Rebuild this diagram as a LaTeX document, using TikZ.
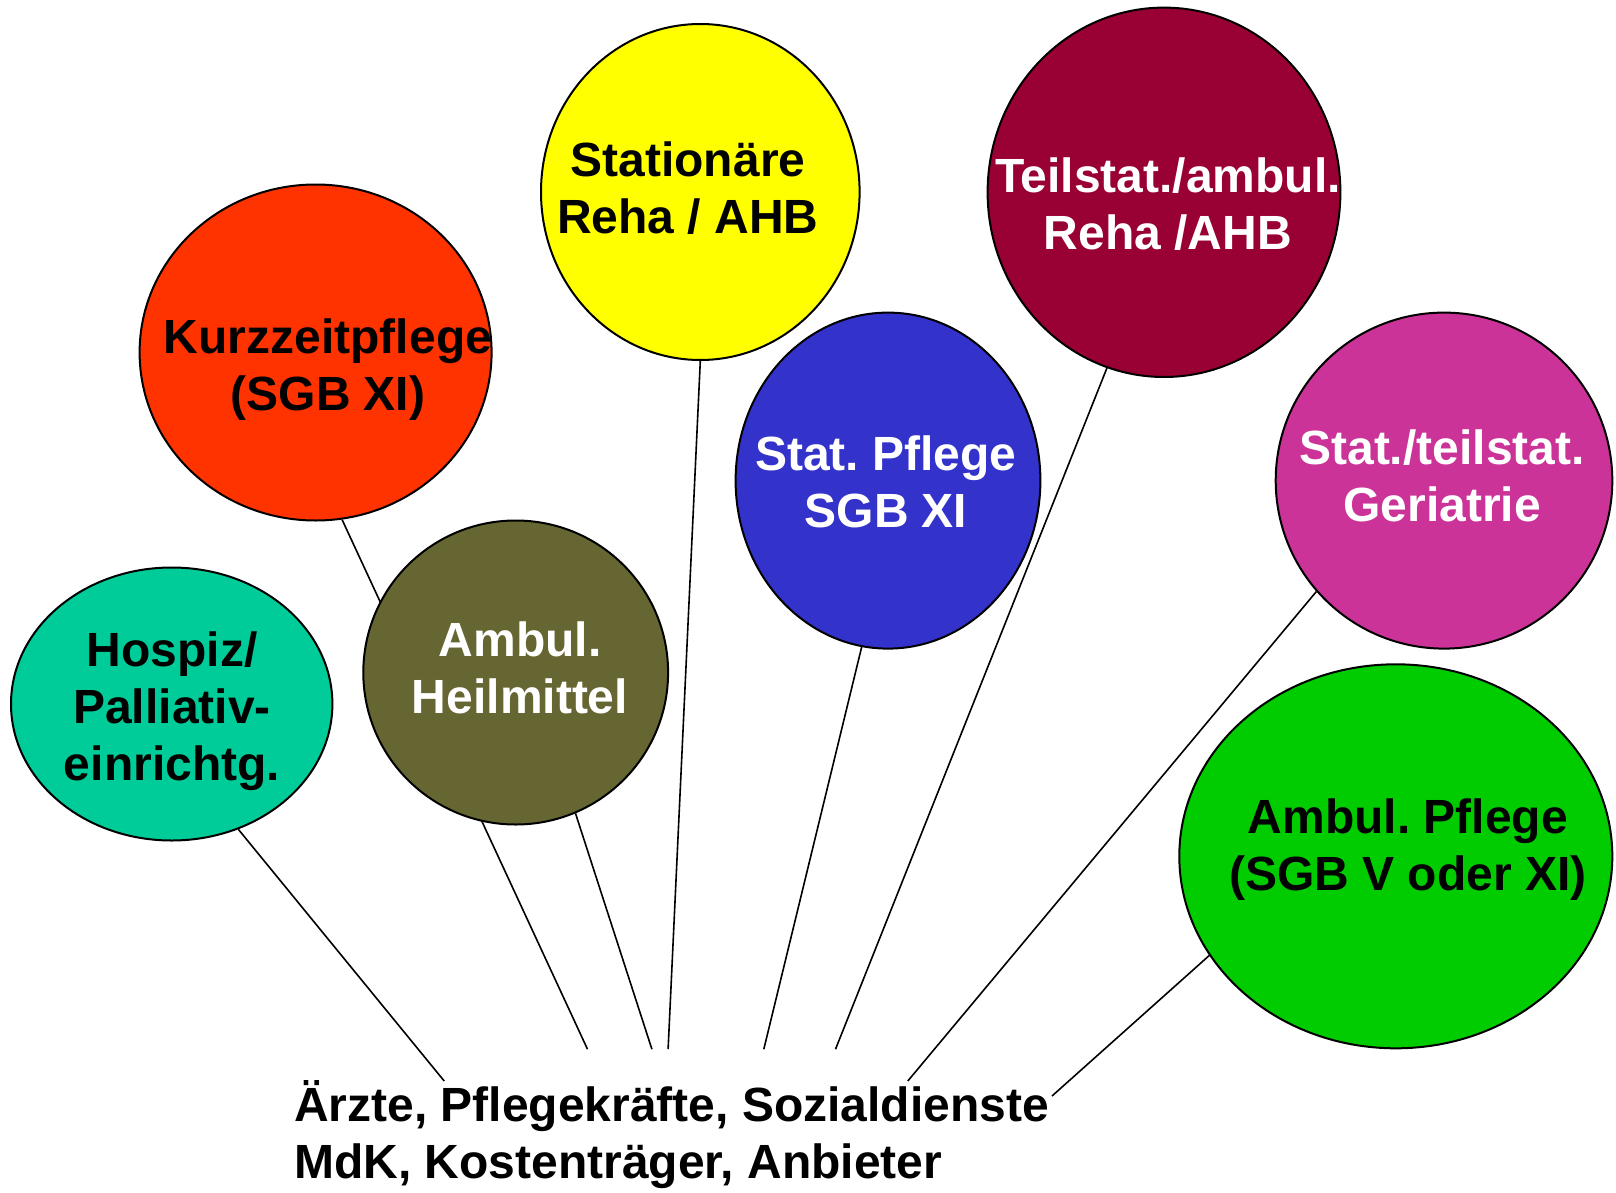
\documentclass[tikz,border=0pt]{standalone}
\usepackage{fontspec}
\setmainfont{Liberation Sans}
\frenchspacing
\usetikzlibrary{shapes.geometric}
\pgfdeclarelayer{bg}
\pgfsetlayers{bg,main}
\definecolor{cKurz}{HTML}{FF3300}
\definecolor{cStat}{HTML}{FFFF00}
\definecolor{cTeil}{HTML}{990033}
\definecolor{cPfl}{HTML}{3333CC}
\definecolor{cGeri}{HTML}{CC3399}
\definecolor{cHosp}{HTML}{00CC99}
\definecolor{cHeil}{HTML}{666633}
\definecolor{cAmbP}{HTML}{00CC00}
\tikzset{
  blob/.style={ellipse, draw=black, line width=1pt, inner sep=0pt},
  lbl/.style={anchor=base, align=center, inner sep=0pt,
    font=\fontsize{24pt}{28.5pt}\selectfont\bfseries\frenchspacing},
  conn/.style={draw=black, line width=0.8pt},
}
\begin{document}
\begin{tikzpicture}[x=0.5pt, y=-0.5pt]
\useasboundingbox (0,0) rectangle (1616,1193);
\begin{pgfonlayer}{bg}
  \fill[white] (0,0) rectangle (1616,1193);
\end{pgfonlayer}

% ellipses
\node[blob, fill=cKurz, minimum width=176pt, minimum height=168pt] (kurz) at (315.6,352.5) {};
\node[blob, fill=cStat, minimum width=159.3pt, minimum height=168pt] (stat) at (700.3,192) {};
\node[blob, fill=cTeil, minimum width=176.4pt, minimum height=184.7pt] (teil) at (1164,192.3) {};
\node[blob, fill=cPfl, minimum width=152.4pt, minimum height=168pt] (pfl) at (888,480.6) {};
\node[blob, fill=cGeri, minimum width=168.3pt, minimum height=168pt] (geri) at (1444,480.6) {};
\node[blob, fill=cHosp, minimum width=160.7pt, minimum height=136.5pt] (hosp) at (171.7,704) {};
\node[blob, fill=cHeil, minimum width=152.4pt, minimum height=152pt] (heil) at (515.7,672.5) {};
\node[blob, fill=cAmbP, minimum width=216.5pt, minimum height=192pt] (ambp) at (1395.8,856.3) {};

% labels (anchor = baseline of last line)
\node[lbl, text=black] (kurzT) at (328,410) {Kurzzeitpflege\\(SGB XI)};
\node[lbl, text=black] (statT) at (688,233.4) {Stationäre\\Reha / AHB};
\node[lbl, text=white] (teilT) at (1168,249.5) {Teilstat./ambul.\\Reha /AHB};
\node[lbl, text=white] (pflT) at (886,527) {Stat. Pflege\\SGB XI};
\node[lbl, text=white] (geriT) at (1442,521.2) {Stat./teilstat.\\Geriatrie};
\node[lbl, text=black] (ambpT) at (1408,890.4) {Ambul. Pflege\\(SGB V oder XI)};
\node[lbl, text=black] (hospT) at (172,780.5) {Hospiz/\\Palliativ-\\einrichtg.};
\node[lbl, text=white] (heilT) at (520,713.6) {Ambul.\\Heilmittel};

\node[lbl, anchor=base west, align=left, text=black] (bottom) at (293.7,1178.5)
  {Ärzte, Pflegekräfte, Sozialdienste\\MdK, Kostenträger, Anbieter};

% connector end points
\coordinate (eHosp) at (444.2,1081);
\coordinate (eKurz) at (587.5,1049.2);
\coordinate (eHeil) at (651.9,1049.2);
\coordinate (eStat) at (668.1,1049.2);
\coordinate (ePfl) at (763.8,1049.2);
\coordinate (eTeil) at (835.5,1049.2);
\coordinate (eGeri) at (907.8,1081);
\coordinate (eAmbP) at (1052,1096);

\begin{pgfonlayer}{bg}
  \draw[conn] (hosp.-62) -- (eHosp);
  \draw[conn] (kurz.-81.9) -- (eKurz);
  \draw[conn] (heil.-67.5) -- (eHeil);
  \draw[conn] (stat.-90.3) -- (eStat);
  \draw[conn] (pfl.-99.6) -- (ePfl);
  \draw[conn] (teil.-108.6) -- (eTeil);
  \draw[conn] (geri.-139.4) -- (eGeri);
  \draw[conn] (ambp.-152.3) -- (eAmbP);
\end{pgfonlayer}
\end{tikzpicture}
\end{document}
